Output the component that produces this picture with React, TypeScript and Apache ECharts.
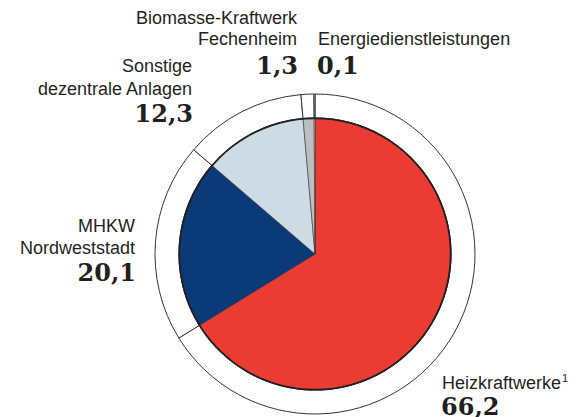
import React, { useEffect, useRef } from "react";
import * as echarts from "echarts";

const categories = [
  "Heizkraftwerke",
  "MHKW Nordweststadt",
  "Sonstige dezentrale Anlagen",
  "Biomasse-Kraftwerk Fechenheim",
  "Energiedienstleistungen",
];
const values = [66.2, 20.1, 12.3, 1.3, 0.1];
const labelLines = [
  ["Heizkraftwerke{sup|1}"],
  ["MHKW", "Nordweststadt"],
  ["Sonstige", "dezentrale Anlagen"],
  ["Biomasse-Kraftwerk", "Fechenheim"],
  ["Energiedienstleistungen"],
];
const colors = ["#EB3C33", "#0A3A78", "#CDDCE4", "#BDBEC0", "#FFFFFF"];

// label layout: anchor x, y of first line, alignment
const labelPos = [
  { x: 442, y: 383, align: "left" },
  { x: 135, y: 226, align: "right" },
  { x: 192, y: 66, align: "right" },
  { x: 297, y: 18, align: "right" },
  { x: 318, y: 39, align: "left" },
];
const lineGap = [22, 22, 23, 21, 22];
const valueY = [406, 272, 113, 65, 65];

const SANS = "'Liberation Sans', Arial, sans-serif";
const SERIF = "'DejaVu Serif', serif";
const CX = 315;
const CY = 254;

const fmt = (v: number) => v.toFixed(1).replace(".", ",");

export default function App() {
  const ref = useRef<HTMLDivElement>(null);
  useEffect(() => {
    document.body.style.margin = "0";
    const chart = echarts.init(ref.current!, null, { renderer: "svg" });
    const graphics: any[] = [];
    labelPos.forEach((p, i) => {
      labelLines[i].forEach((line, j) => {
        graphics.push({
          type: "text",
          silent: true,
          style: {
            text: line,
            x: p.x,
            y: p.y + j * lineGap[i],
            align: p.align,
            verticalAlign: "middle",
            fontFamily: SANS,
            fontSize: 18,
            fill: "#231F20",
            rich: {
              sup: {
                fontFamily: SANS,
                fontSize: 11,
                fill: "#231F20",
                verticalAlign: "top",
                padding: [0, 0, 10, 1],
              },
            },
          },
        });
      });
      graphics.push({
        type: "text",
        silent: true,
        style: {
          text: fmt(values[i]),
          x: p.align === "left" ? p.x - 1 : p.x + 1,
          y: valueY[i],
          align: p.align,
          verticalAlign: "middle",
          fontFamily: SERIF,
          fontWeight: "bold",
          fontSize: 24,
          fill: "#231F20",
        },
      });
    });
    const data = categories.map((n, i) => ({ name: n, value: values[i] }));
    chart.setOption({
      animation: false,
      graphic: graphics,
      series: [
        {
          type: "pie",
          silent: true,
          center: [CX, CY],
          radius: [136, 160],
          startAngle: 90,
          clockwise: true,
          label: { show: false },
          labelLine: { show: false },
          itemStyle: { color: "#FFFFFF", borderColor: "#333", borderWidth: 1 },
          data,
        },
        {
          type: "pie",
          silent: true,
          center: [CX, CY],
          radius: [0, 136],
          startAngle: 90,
          clockwise: true,
          label: { show: false },
          labelLine: { show: false },
          itemStyle: { borderColor: "#333", borderWidth: 0.6 },
          data: data.map((d, i) => ({ ...d, itemStyle: { color: colors[i] } })),
        },
        {
          type: "pie",
          silent: true,
          center: [CX, CY],
          radius: [134.8, 136.6],
          label: { show: false },
          labelLine: { show: false },
          itemStyle: { color: "#231F20" },
          data: [{ name: "edge", value: 1 }],
        },
      ],
    });
    return () => chart.dispose();
  }, []);
  return <div ref={ref} style={{ width: 583, height: 417 }} />;
}
